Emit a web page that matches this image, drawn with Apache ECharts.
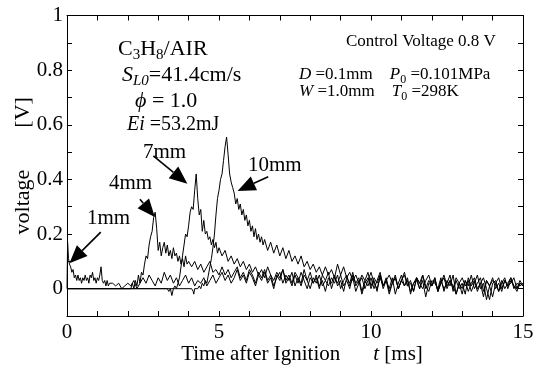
<!DOCTYPE html>
<html><head><meta charset="utf-8">
<script src="https://cdn.jsdelivr.net/npm/echarts/dist/echarts.min.js"></script>
<style>html,body{margin:0;padding:0;background:#fff}#c{width:534px;height:375px}</style>
</head><body><div id="c"></div>
<script>
// ---- data (t [ms], voltage [V]) ----
const xLabelTicks = [0, 5, 10, 15];
const yLabelTicks = [0, 0.2, 0.4, 0.6, 0.8, 1];
const seriesNames = ['1mm', '4mm', '7mm', '10mm'];

const s1Head = [[0,0.0],[0.02,0.17],[0.05,0.11],[0.08,0.09],[0.12,0.08],[0.16,0.06],[0.2,0.07],[0.24,0.04],[0.28,0.05],[0.32,0.03],[0.36,0.05],[0.4,0.03],[0.44,0.04],[0.48,0.02],[0.52,0.04],[0.56,0.03],[0.6,0.05],[0.64,0.03],[0.68,0.04],[0.72,0.02],[0.76,0.05],[0.8,0.04],[0.84,0.06],[0.88,0.03],[0.92,0.04],[0.96,0.02],[1.0,0.04],[1.04,0.03],[1.08,0.05],[1.12,0.08],[1.16,0.03],[1.2,0.02],[1.24,0.03],[1.28,0.01],[1.32,0.03],[1.36,0.01],[1.4,0.02]];
const s1TailStart = 1.5;
const s1Tail = [0.02,0.01,0.02,0.0,0.01,0.02,0.01,0.03,0.0,0.02,
 0.04,0.02,0.05,0.03,0.01,0.04,0.02,0.06,0.03,0.05,
 0.02,0.04,0.01,0.03,0.05,0.02,0.04,0.01,0.03,0.02,
 0.04,0.01,0.03,0.05,0.02,0.04,0.06,0.03,0.05,0.02,
 0.04,0.07,0.03,0.05,0.02,0.06,0.04,0.01,0.05,0.03,
 0.06,0.02,0.04,0.0,0.05,0.03,0.07,0.02,0.04,0.01,
 0.05,0.02,0.06,0.03,0.0,0.04,0.02,0.05,0.01,0.03,
 -0.01,0.04,0.02,0.05,0.01,0.03,-0.01,0.04,0.02,0.06,
 0.01,0.03,-0.02,0.02,0.04,0.0,0.03,-0.01,0.05,0.01,
 0.03,0.0,0.04,-0.02,0.02,0.05,0.01,0.03,-0.01,0.02,
 0.04,0.0,0.03,-0.03,0.02,0.01,0.04,-0.01,0.03,0.0,
 0.02,0.05,-0.01,0.03,0.0,0.02,-0.02,0.04,0.01,0.03,
 -0.01,0.02,0.04,0.0,-0.04,0.02,0.03,-0.01,0.02,0.04,
 0.0,0.03,0.01,-0.01,0.02,0.01];

const s2Head = [[0,0],[2.1,0],[2.15,0.02],[2.2,0.0],[2.25,0.03],[2.3,0.01],[2.35,0.05],[2.4,0.02],[2.45,0.06],[2.5,0.05],[2.55,0.09],[2.6,0.12],[2.65,0.11],[2.7,0.16],[2.75,0.19],[2.8,0.21],[2.85,0.26],[2.9,0.28],[2.95,0.22],[3.0,0.14],[3.05,0.17],[3.1,0.12],[3.15,0.15],[3.2,0.17],[3.25,0.13],[3.3,0.16],[3.35,0.12],[3.4,0.14],[3.45,0.11],[3.5,0.15],[3.55,0.12],[3.6,0.13],[3.65,0.1],[3.7,0.12],[3.75,0.09],[3.8,0.11],[3.85,0.08],[3.9,0.12],[3.95,0.09],[4.0,0.1]];
const s2TailStart = 4.1;
const s2Tail = [0.08,0.1,0.07,0.09,0.06,0.08,0.1,0.06,0.07,0.05,
 0.08,0.05,0.07,0.04,0.06,0.08,0.04,0.06,0.03,0.07,
 0.05,0.02,0.06,0.04,0.07,0.03,0.05,0.01,0.04,0.06,
 0.02,0.05,0.03,0.06,0.01,0.04,0.02,0.07,0.03,0.0,
 0.04,0.02,0.05,0.01,0.03,0.06,0.0,0.04,0.02,0.05,
 0.01,0.03,0.0,0.05,0.02,0.04,-0.01,0.03,0.01,0.04,
 0.0,0.03,0.06,0.01,0.04,-0.01,0.02,0.05,0.0,0.03,
 0.01,0.04,-0.02,0.02,0.03,0.0,0.05,0.01,-0.01,0.03,
 0.02,0.0,0.04,-0.01,0.03,0.01,0.05,-0.02,0.02,0.0,
 0.03,-0.01,0.02,0.04,0.0,0.02,-0.03,0.03,0.01,0.04,
 0.0,0.02,-0.01,0.03,0.01,0.04,0.0,0.02,0.01,0.02];

const s3Head = [[0,0],[3.3,0],[3.35,-0.01],[3.4,0.0],[3.45,-0.025],[3.5,0.0],[3.55,0.01],[3.6,0.0],[3.65,0.02],[3.7,0.04],[3.75,0.08],[3.8,0.12],[3.85,0.16],[3.9,0.2],[3.95,0.19],[4.0,0.23],[4.05,0.28],[4.1,0.3],[4.15,0.29],[4.2,0.36],[4.25,0.42],[4.3,0.33],[4.35,0.27],[4.4,0.29],[4.45,0.21],[4.5,0.25],[4.55,0.2],[4.6,0.21],[4.65,0.18],[4.7,0.19],[4.75,0.16],[4.8,0.18],[4.85,0.15],[4.9,0.17],[4.95,0.13],[5.0,0.15]];
const s3TailStart = 5.1;
const s3Tail = [0.12,0.14,0.1,0.12,0.09,0.11,0.08,0.1,0.07,0.09,
 0.06,0.08,0.05,0.07,0.04,0.08,0.05,0.03,0.06,0.04,
 0.07,0.03,0.05,0.02,0.06,0.04,0.01,0.05,0.03,0.06,
 0.02,0.04,0.0,0.05,0.03,0.01,0.04,0.02,0.05,0.0,
 0.03,0.05,0.01,0.04,-0.01,0.02,0.04,0.0,0.03,0.06,
 0.02,0.0,0.04,0.01,0.03,-0.02,0.02,0.04,0.0,0.03,
 0.05,0.01,0.02,-0.01,0.04,0.02,0.0,0.03,0.05,0.01,
 0.03,-0.01,0.02,0.04,0.0,0.03,0.01,-0.02,0.02,0.04,
 0.01,0.03,-0.01,0.02,0.05,0.0,0.02,-0.04,0.01,0.03,
 0.02,-0.01,0.03,0.0,0.02,0.04,0.01,0.0,0.03,0.01];

const s4Head = [[0,0],[4.1,0],[4.15,-0.01],[4.17,-0.02],[4.2,0.0],[4.3,0.0],[4.35,0.01],[4.4,0.0],[4.45,0.02],[4.5,0.01],[4.55,0.03],[4.6,0.02],[4.65,0.05],[4.7,0.08],[4.75,0.11],[4.8,0.15],[4.85,0.2],[4.9,0.27],[4.95,0.33],[5.0,0.36],[5.05,0.4],[5.1,0.42],[5.15,0.47],[5.2,0.52],[5.25,0.555],[5.3,0.49],[5.35,0.42],[5.4,0.39],[5.45,0.37],[5.5,0.35],[5.55,0.31],[5.6,0.33],[5.65,0.29],[5.7,0.31],[5.75,0.27],[5.8,0.29],[5.85,0.25],[5.9,0.27],[5.95,0.23],[6.0,0.25],[6.05,0.21],[6.1,0.23],[6.15,0.19],[6.2,0.22],[6.25,0.18],[6.3,0.2],[6.35,0.17],[6.4,0.19],[6.45,0.16],[6.5,0.18]];
const s4TailStart = 6.6;
const s4Tail = [0.14,0.17,0.13,0.16,0.12,0.15,0.11,0.14,0.1,0.12,
 0.09,0.12,0.08,0.1,0.07,0.09,0.06,0.08,0.05,0.08,
 0.05,0.07,0.04,0.09,0.05,0.08,0.04,0.06,0.03,0.05,
 0.02,0.05,0.03,0.06,0.01,0.04,0.02,0.05,0.0,0.03,
 0.05,0.02,0.04,0.0,0.03,0.06,0.01,0.03,-0.01,0.04,
 0.02,0.05,0.0,0.03,0.01,0.04,-0.01,0.02,0.05,0.01,
 0.03,0.0,0.04,0.02,-0.02,0.03,0.01,0.05,0.0,0.02,
 0.04,-0.01,0.03,0.01,-0.03,0.02,0.04,0.0,0.03,0.01,
 0.02,0.04,0.0,0.02,0.01];

// arrows: [tailT, tailV, tipT, tipV]
const arrows = [[1.11,0.207,0.08,0.093],[2.40,0.327,2.89,0.262],[2.84,0.486,3.96,0.384],[6.62,0.41,5.61,0.358]];

function build(head, start, tail){
  return head.concat(tail.map((v,i)=>[Math.round((start+i*0.1)*100)/100, v]));
}
const allData = [build(s1Head,s1TailStart,s1Tail),build(s2Head,s2TailStart,s2Tail),build(s3Head,s3TailStart,s3Tail),build(s4Head,s4TailStart,s4Tail)];

const FONT = 'Liberation Serif';
const chart = echarts.init(document.getElementById('c'), null, {renderer:'canvas'});
function axisBase(extra){
  return Object.assign({
    type:'value',
    axisLine:{show:true,onZero:false,lineStyle:{color:'#000',width:1}},
    axisTick:{show:true,inside:true,length:5,lineStyle:{color:'#000',width:1}},
    splitLine:{show:false}
  }, extra);
}
chart.setOption({
  animation:false,
  backgroundColor:'#fff',
  grid:{left:67,right:11,top:15.5,bottom:59,containLabel:false,outerBoundsMode:'none'},
  xAxis:[
    axisBase({min:0,max:15,interval:1,position:'bottom',
      axisLabel:{margin:6,fontFamily:FONT,fontSize:21,color:'#000',
        formatter:v=>{const r=Math.round(v); return (Math.abs(v-r)<1e-6 && xLabelTicks.indexOf(r)>=0) ? String(r) : '';}},
      name:'{a|Time after Ignition}{i|t}{a| [ms]}',nameLocation:'middle',nameGap:28,nameMoveOverlap:false,
      nameTextStyle:{rich:{a:{fontFamily:FONT,fontSize:21,color:'#000'},i:{fontFamily:FONT,fontSize:21,fontStyle:'italic',color:'#000',padding:[0,0,0,33]}},padding:[0,0,0,14]}
    }),
    axisBase({min:0,max:15,interval:1,position:'top',axisLabel:{show:false}})
  ],
  yAxis:[
    axisBase({min:-0.1,max:1,interval:0.1,position:'left',
      axisLabel:{margin:4,fontFamily:FONT,fontSize:21,color:'#000',
        formatter:v=>{const r=Math.round(v*10); const val=r/10; return yLabelTicks.indexOf(val)>=0 ? String(val) : '';}},
      name:'{a|voltage}{b|[V]}',nameLocation:'middle',nameGap:33,nameRotate:90,nameMoveOverlap:false,
      nameTextStyle:{rich:{a:{fontFamily:FONT,fontSize:22,color:'#000'},b:{fontFamily:FONT,fontSize:22,color:'#000',padding:[0,0,0,42]}}}
    }),
    axisBase({min:-0.1,max:1,interval:0.1,position:'right',axisLabel:{show:false}})
  ],
  series: allData.map((d,i)=>({
    name:seriesNames[i],type:'line',data:d,showSymbol:false,symbol:'none',silent:true,
    lineStyle:{color:'#000',width:1},z:2
  }))
});

// annotations: each line is a list of [text, fontSize, italic, dy]
const mctx = document.createElement('canvas').getContext('2d');
const graphics = [];
function seg(x, y, parts){
  let cx = x;
  parts.forEach(p=>{
    const [txt, size, it, dy] = p;
    mctx.font = (it ? 'italic ' : '') + size + 'px "' + FONT + '"';
    const w = mctx.measureText(txt).width;
    graphics.push({type:'text',x:cx,y:y+(dy||0),silent:true,z:10,
      style:{text:txt,fontFamily:FONT,fontSize:size,fontStyle:it?'italic':'normal',fill:'#000',textAlign:'left',textVerticalAlign:'middle'}});
    cx += w;
  });
}
seg(118,49,[['C',22],['3',15,0,6],['H',22],['8',15,0,6],['/AIR',22]]);
seg(122,75,[['S',22,1],['L0',15,1,6],['=41.4cm/s',22]]);
seg(135,101,[['ϕ',22,1],[' = 1.0',22]]);
seg(127,125,[['Ei',20,1],[' =53.2mJ',20]]);
seg(346,42,[['Control Voltage 0.8 V',17]]);
seg(299,75,[['D',17,1],[' =0.1mm    ',17],['P',17,1],['0',12,0,5],[' =0.101MPa',17]]);
seg(299,92,[['W',17,1],[' =1.0mm    ',17],['T',17,1],['0',12,0,5],[' =298K',17]]);
seg(87,218,[['1mm',21]]);
seg(109,183,[['4mm',21]]);
seg(143,152,[['7mm',21]]);
seg(248,165,[['10mm',21]]);

arrows.forEach(a=>{
  const p0 = chart.convertToPixel({xAxisIndex:0,yAxisIndex:0},[a[0],a[1]]);
  const p1 = chart.convertToPixel({xAxisIndex:0,yAxisIndex:0},[a[2],a[3]]);
  const dx=p1[0]-p0[0], dy=p1[1]-p0[1], L=Math.sqrt(dx*dx+dy*dy);
  const ux=dx/L, uy=dy/L, nx=-uy, ny=ux;
  const hl=18, hw=7.5;
  const bx=p1[0]-ux*hl, by=p1[1]-uy*hl;
  graphics.push({type:'line',silent:true,z:10,shape:{x1:p0[0],y1:p0[1],x2:bx,y2:by},style:{stroke:'#000',lineWidth:1.6}});
  graphics.push({type:'polygon',silent:true,z:10,shape:{points:[[p1[0],p1[1]],[bx+nx*hw,by+ny*hw],[bx-nx*hw,by-ny*hw]]},style:{fill:'#000'}});
});
chart.setOption({graphic:graphics});
</script>
</body></html>
